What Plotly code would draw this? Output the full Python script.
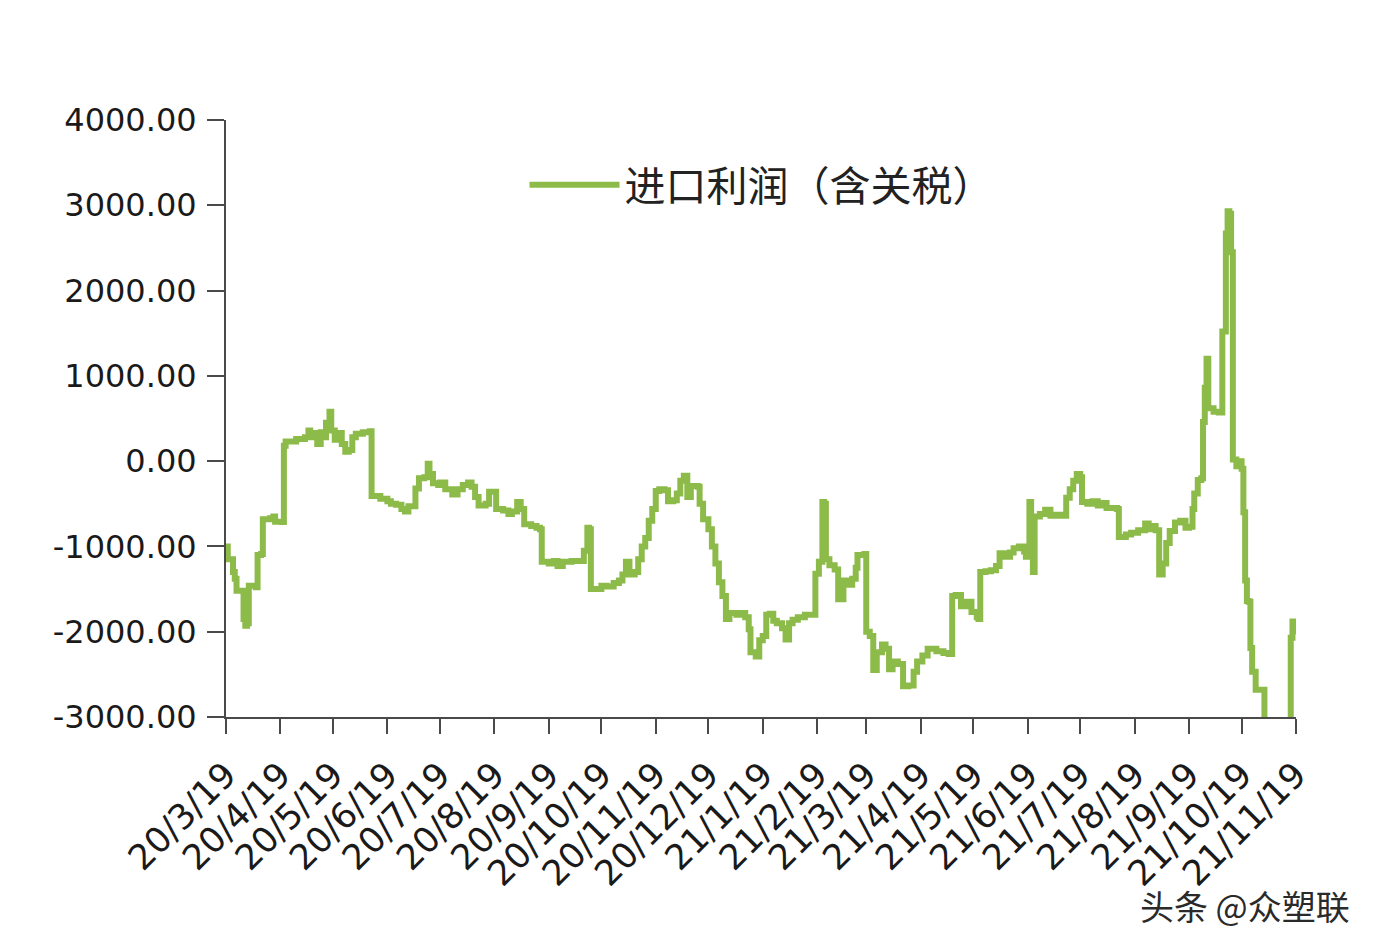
import plotly.graph_objects as go

# ---- data ----
dates = [
    "2020-03-19", "2020-03-20", "2020-03-23", "2020-03-24", "2020-03-25", "2020-03-28", "2020-03-29",
    "2020-03-30", "2020-03-31", "2020-04-01", "2020-04-05", "2020-04-06", "2020-04-08", "2020-04-09",
    "2020-04-13", "2020-04-15", "2020-04-16", "2020-04-20", "2020-04-21", "2020-04-22", "2020-04-28",
    "2020-05-03", "2020-05-05", "2020-05-06", "2020-05-08", "2020-05-10", "2020-05-12", "2020-05-14",
    "2020-05-15", "2020-05-17", "2020-05-18", "2020-05-20", "2020-05-22", "2020-05-24", "2020-05-26",
    "2020-05-28", "2020-05-30", "2020-06-01", "2020-06-05", "2020-06-09", "2020-06-10", "2020-06-15",
    "2020-06-19", "2020-06-21", "2020-06-24", "2020-06-27", "2020-06-29", "2020-07-01", "2020-07-05",
    "2020-07-07", "2020-07-10", "2020-07-12", "2020-07-13", "2020-07-15", "2020-07-18", "2020-07-19",
    "2020-07-22", "2020-07-26", "2020-07-29", "2020-08-01", "2020-08-04", "2020-08-06", "2020-08-08",
    "2020-08-10", "2020-08-14", "2020-08-16", "2020-08-19", "2020-08-20", "2020-08-24", "2020-08-27",
    "2020-08-29", "2020-09-01", "2020-09-03", "2020-09-05", "2020-09-09", "2020-09-12", "2020-09-14",
    "2020-09-15", "2020-09-19", "2020-09-22", "2020-09-24", "2020-09-27", "2020-10-02", "2020-10-06",
    "2020-10-09", "2020-10-11", "2020-10-12", "2020-10-13", "2020-10-19", "2020-10-22", "2020-10-26",
    "2020-10-29", "2020-10-31", "2020-11-02", "2020-11-04", "2020-11-07", "2020-11-09", "2020-11-11",
    "2020-11-13", "2020-11-15", "2020-11-17", "2020-11-19", "2020-11-21", "2020-11-24", "2020-11-26",
    "2020-11-29", "2020-12-01", "2020-12-03", "2020-12-05", "2020-12-07", "2020-12-09", "2020-12-13",
    "2020-12-14", "2020-12-16", "2020-12-19", "2020-12-21", "2020-12-23", "2020-12-25", "2020-12-27",
    "2020-12-29", "2020-12-31", "2021-01-04", "2021-01-07", "2021-01-09", "2021-01-11", "2021-01-12",
    "2021-01-15", "2021-01-17", "2021-01-19", "2021-01-21", "2021-01-23", "2021-01-25", "2021-01-27",
    "2021-01-30", "2021-02-01", "2021-02-03", "2021-02-05", "2021-02-08", "2021-02-12", "2021-02-16",
    "2021-02-18", "2021-02-20", "2021-02-22", "2021-02-23", "2021-02-24", "2021-02-26", "2021-03-01",
    "2021-03-03", "2021-03-06", "2021-03-08", "2021-03-11", "2021-03-13", "2021-03-14", "2021-03-18",
    "2021-03-19", "2021-03-21", "2021-03-23", "2021-03-25", "2021-03-28", "2021-03-30", "2021-04-01",
    "2021-04-03", "2021-04-06", "2021-04-09", "2021-04-12", "2021-04-15", "2021-04-17", "2021-04-20",
    "2021-04-23", "2021-04-28", "2021-05-02", "2021-05-05", "2021-05-07", "2021-05-09", "2021-05-12",
    "2021-05-15", "2021-05-18", "2021-05-21", "2021-05-22", "2021-05-23", "2021-05-26", "2021-05-29",
    "2021-06-01", "2021-06-03", "2021-06-06", "2021-06-09", "2021-06-11", "2021-06-14", "2021-06-17",
    "2021-06-18", "2021-06-20", "2021-06-21", "2021-06-22", "2021-06-23", "2021-06-26", "2021-06-29",
    "2021-07-02", "2021-07-05", "2021-07-08", "2021-07-11", "2021-07-13", "2021-07-15", "2021-07-17",
    "2021-07-19", "2021-07-20", "2021-07-23", "2021-07-26", "2021-07-29", "2021-07-31", "2021-08-03",
    "2021-08-07", "2021-08-09", "2021-08-10", "2021-08-14", "2021-08-17", "2021-08-21", "2021-08-25",
    "2021-08-27", "2021-08-29", "2021-08-31", "2021-09-02", "2021-09-04", "2021-09-06", "2021-09-08",
    "2021-09-11", "2021-09-14", "2021-09-17", "2021-09-19", "2021-09-21", "2021-09-22", "2021-09-24",
    "2021-09-26", "2021-09-27", "2021-09-28", "2021-09-29", "2021-09-30", "2021-10-03", "2021-10-06",
    "2021-10-08", "2021-10-09", "2021-10-10", "2021-10-11", "2021-10-12", "2021-10-13", "2021-10-14",
    "2021-10-16", "2021-10-18", "2021-10-19", "2021-10-20", "2021-10-21", "2021-10-22", "2021-10-23",
    "2021-10-24", "2021-10-25", "2021-10-27", "2021-10-30", "2021-11-01", "2021-11-08", "2021-11-15",
    "2021-11-16", "2021-11-17", "2021-11-18",
]
profit = [
    -1000, -1150, -1300, -1380, -1520, -1520, -1850,
    -1930, -1900, -1460, -1480, -1100, -1090, -680,
    -670, -650, -710, -715, 180, 230, 260,
    280, 360, 280, 330, 200, 340, 280,
    450, 580, 360, 250, 330, 200, 110,
    130, 280, 320, 340, 350, -410, -440,
    -470, -500, -510, -560, -590, -530, -320,
    -200, -190, -30, -150, -260, -280, -250,
    -330, -390, -330, -280, -250, -300, -420,
    -520, -500, -360, -360, -560, -580, -620,
    -590, -480, -560, -740, -760, -780, -800,
    -1180, -1200, -1170, -1230, -1180, -1170, -1170,
    -1050, -780, -800, -1500, -1460, -1470, -1430,
    -1400, -1330, -1180, -1330, -1300, -1150, -1000,
    -900, -700, -560, -350, -330, -340, -470,
    -460, -380, -230, -170, -420, -290, -300,
    -500, -680, -800, -1000, -1200, -1420, -1580,
    -1850, -1780, -1800, -1780, -1830, -1970, -2240,
    -2290, -2100, -2050, -1800, -1790, -1870, -1900,
    -1960, -2090, -1900, -1860, -1830, -1800, -1800,
    -1320, -1180, -480, -500, -1150, -1220, -1270,
    -1620, -1400, -1450, -1380, -1250, -1100, -1090,
    -2000, -2050, -2450, -2240, -2150, -2200, -2440,
    -2350, -2380, -2640, -2630, -2470, -2350, -2280,
    -2200, -2230, -2250, -2260, -1580, -1570, -1700,
    -1650, -1770, -1830, -1850, -1300, -1290, -1280,
    -1230, -1080, -1120, -1070, -1020, -1000, -1060,
    -1120, -480, -700, -1300, -650, -620, -570,
    -640, -630, -640, -430, -330, -230, -150,
    -190, -480, -500, -470, -520, -490, -550,
    -550, -560, -890, -860, -840, -810, -730,
    -800, -760, -810, -1330, -1200, -960, -820,
    -720, -700, -780, -770, -560, -380, -220,
    -200, 460, 860, 1200, 620, 580, 570,
    1520, 1520, 2670, 2930, 2900, 2450, 20,
    -60, 0, -90, -600, -1400, -1640, -1650,
    -2190, -2470, -2680, -2680, -3300, -3300, -3300,
    -2070, -1880, -2030,
]
series_name = "进口利润（含关税）"

x_tick_dates = [
    "2020-03-19", "2020-04-19", "2020-05-19", "2020-06-19", "2020-07-19", "2020-08-19", "2020-09-19",
    "2020-10-19", "2020-11-19", "2020-12-19", "2021-01-19", "2021-02-19", "2021-03-19", "2021-04-19",
    "2021-05-19", "2021-06-19", "2021-07-19", "2021-08-19", "2021-09-19", "2021-10-19", "2021-11-19",
]
x_tick_labels = [
    "20/3/19", "20/4/19", "20/5/19", "20/6/19", "20/7/19", "20/8/19", "20/9/19",
    "20/10/19", "20/11/19", "20/12/19", "21/1/19", "21/2/19", "21/3/19", "21/4/19",
    "21/5/19", "21/6/19", "21/7/19", "21/8/19", "21/9/19", "21/10/19", "21/11/19",
]
y_tick_values = [-3000, -2000, -1000, 0, 1000, 2000, 3000, 4000]
y_tick_labels = ["-3000.00", "-2000.00", "-1000.00", "0.00", "1000.00", "2000.00", "3000.00", "4000.00"]

LINE_GREEN = "#8DBB4A"
AXIS_GREY = "#4a4a4a"
TXT = "#1a1a1a"

fig = go.Figure()
fig.add_trace(go.Scatter(
    x=dates, y=profit, mode="lines", name=series_name,
    line=dict(color=LINE_GREEN, width=6, shape="hv"),
))

fig.update_layout(
    width=1364, height=936,
    paper_bgcolor="white", plot_bgcolor="white",
    margin=dict(l=218, r=76, t=112, b=227),
    font=dict(family="DejaVu Sans, sans-serif", size=32, color=TXT),
    showlegend=True,
    legend=dict(
        x=0.279, y=0.891, xanchor="left", yanchor="middle",
        bgcolor="rgba(0,0,0,0)", borderwidth=0,
        font=dict(family="Noto Sans CJK SC, sans-serif", size=41, color="#222222"),
        itemwidth=90,
    ),
    xaxis=dict(
        type="date",
        range=["2020-03-19", "2021-11-19"],
        tickmode="array", tickvals=x_tick_dates, ticktext=x_tick_labels,
        tickangle=-45,
        showgrid=False, zeroline=False,
        showline=True, linecolor=AXIS_GREY, linewidth=2,
        ticks="outside", ticklen=15, tickwidth=2, tickcolor=AXIS_GREY,
        ticklabelstandoff=6,
        tickfont=dict(family="DejaVu Sans, sans-serif", size=35, color=TXT),
    ),
    yaxis=dict(
        range=[-3000, 4000],
        tickmode="array", tickvals=y_tick_values, ticktext=y_tick_labels,
        showgrid=False, zeroline=False,
        showline=True, linecolor=AXIS_GREY, linewidth=2,
        ticks="outside", ticklen=17, tickwidth=2, tickcolor=AXIS_GREY,
        ticklabelstandoff=4,
        tickfont=dict(family="DejaVu Sans, sans-serif", size=32, color=TXT),
    ),
    annotations=[dict(
        text="头条 @众塑联", xref="paper", yref="paper",
        x=1.052, y=-0.315, xanchor="right", yanchor="middle", showarrow=False,
        font=dict(family="Noto Sans CJK SC, sans-serif", size=34, color="#2a2a2a"),
    )],
)

fig.write_html("out.html")
